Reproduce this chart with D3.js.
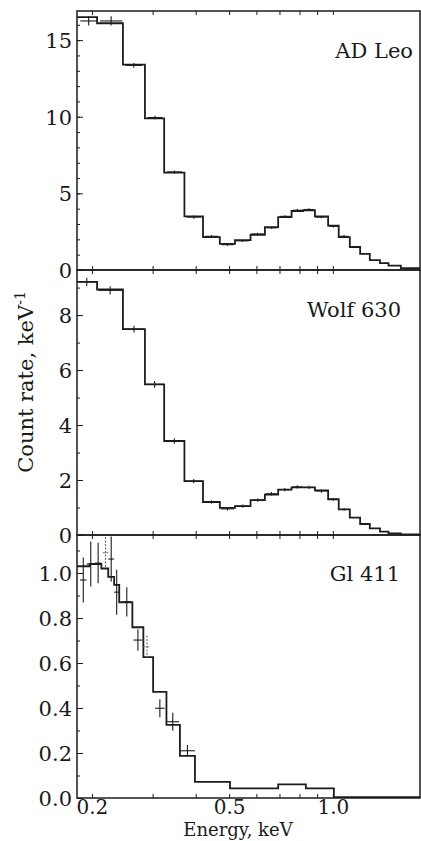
<!DOCTYPE html>
<html>
<head>
<meta charset="utf-8">
<script src="https://cdn.jsdelivr.net/npm/d3@7"></script>
<style>
  html, body { margin: 0; padding: 0; background: #fff; }
  svg text { font-family: "DejaVu Serif", serif; fill: #1a1a1a; }
</style>
</head>
<body>
<svg id="chart" width="421" height="841"></svg>
<script>
// ---------------- DATA ----------------
// Shared channel energy edges (keV) for AD Leo and Wolf 630
const energyEdges = [0.181, 0.207, 0.246, 0.285, 0.324, 0.371, 0.420, 0.470, 0.520, 0.577, 0.635,
  0.694, 0.759, 0.820, 0.887, 0.969, 1.04, 1.12, 1.20, 1.28, 1.37, 1.45, 1.575, 1.79];
const adLeoModel = [16.5, 16.1, 13.4, 9.9, 6.35, 3.5, 2.15, 1.7, 1.95, 2.3, 2.8, 3.45, 3.85, 3.9,
  3.5, 2.9, 2.15, 1.5, 1.05, 0.65, 0.45, 0.28, 0.12];
const wolfModel = [9.21, 8.93, 7.49, 5.48, 3.42, 1.96, 1.2, 0.99, 1.05, 1.27, 1.47, 1.65, 1.73, 1.73,
  1.62, 1.3, 0.93, 0.63, 0.4, 0.24, 0.12, 0.06, 0.02];
// Gl 411 uses wider channels
const gl411Edges = [0.181, 0.197, 0.213, 0.223, 0.232, 0.240, 0.262, 0.282, 0.301, 0.329, 0.360,
  0.398, 0.503, 0.694, 0.835, 1.007, 1.79];
const gl411Model = [1.03, 1.04, 1.02, 0.983, 0.947, 0.87, 0.759, 0.626, 0.472, 0.325, 0.187,
  0.072, 0.043, 0.061, 0.043, 0.004];

// Data points: [energy low, energy high, count rate, error]
const adLeoPoints = [[0.185, 0.207, 16.25, 0.3], [0.211, 0.245, 16.25, 0.3], [0.25, 0.28, 13.35, 0.15],
  [0.29, 0.32, 9.95, 0.12], [0.33, 0.365, 6.4, 0.1], [0.376, 0.415, 3.45, 0.1], [0.425, 0.465, 2.2, 0.08],
  [0.475, 0.515, 1.65, 0.08], [0.525, 0.57, 1.9, 0.08], [0.58, 0.63, 2.35, 0.08], [0.64, 0.69, 2.75, 0.08],
  [0.70, 0.755, 3.5, 0.08], [0.765, 0.815, 3.9, 0.08], [0.825, 0.88, 3.95, 0.08], [0.89, 0.96, 3.45, 0.08],
  [0.975, 1.035, 2.85, 0.08], [1.045, 1.11, 2.2, 0.08], [1.125, 1.19, 1.5, 0.06]];
const wolfPoints = [[0.183, 0.204, 9.21, 0.15], [0.209, 0.244, 8.9, 0.15], [0.248, 0.283, 7.49, 0.12],
  [0.287, 0.322, 5.48, 0.12], [0.326, 0.369, 3.42, 0.1], [0.373, 0.418, 1.96, 0.08], [0.423, 0.467, 1.2, 0.06],
  [0.473, 0.517, 0.95, 0.06], [0.523, 0.574, 1.05, 0.06], [0.58, 0.632, 1.27, 0.06], [0.638, 0.69, 1.5, 0.06],
  [0.697, 0.755, 1.65, 0.06], [0.762, 0.817, 1.75, 0.06], [0.823, 0.884, 1.73, 0.06], [0.89, 0.965, 1.6, 0.06],
  [0.972, 1.036, 1.3, 0.05], [1.043, 1.115, 0.93, 0.05]];
const gl411Points = [[0.1846, 0.193, 0.969, 0.10], [0.193, 0.204, 1.04, 0.10], [0.204, 0.213, 1.044, 0.09],
  [0.223, 0.232, 1.062, 0.10], [0.232, 0.240, 0.915, 0.10], [0.246, 0.259, 0.872, 0.065],
  [0.264, 0.280, 0.702, 0.048], [0.305, 0.325, 0.399, 0.04], [0.329, 0.358, 0.339, 0.04],
  [0.360, 0.398, 0.21, 0.026]];
const gl411PointsB = [[0.215, 0.223, 1.09, 0.07], [0.282, 0.296, 0.672, 0.05]];

const starNames = ["AD Leo", "Wolf 630", "Gl 411"];
const xTickValues = [0.2, 0.5, 1.0];
const xTickLabels = ["0.2", "0.5", "1.0"];
const xMinorTicks = [0.2, 0.3, 0.4, 0.5, 0.6, 0.7, 0.8, 0.9, 1.0];
const adLeoYTicks = [0, 5, 10, 15];
const wolfYTicks = [0, 2, 4, 6, 8];
const gl411YTicks = [0.0, 0.2, 0.4, 0.6, 0.8, 1.0];
const yAxisTitle = "Count rate, keV";
const xAxisTitle = "Energy, keV";

// ---------------- LAYOUT ----------------
const svg = d3.select("#chart");
const left = 77, right = 420;
const x = d3.scaleLog().domain([0.181, 1.79]).range([left, right]);

const panels = [
  { name: starNames[0], edges: energyEdges, model: adLeoModel, points: adLeoPoints, pointsB: [],
    yDomain: [0, 16.9], top: 11, bottom: 270, ticks: adLeoYTicks, minor: d3.range(0, 17, 1),
    fmt: d3.format("d"), labelX: 413, labelY: 58 },
  { name: starNames[1], edges: energyEdges, model: wolfModel, points: wolfPoints, pointsB: [],
    yDomain: [0, 9.64], top: 270, bottom: 535, ticks: wolfYTicks, minor: d3.range(0, 10, 1),
    fmt: d3.format("d"), labelX: 401, labelY: 317 },
  { name: starNames[2], edges: gl411Edges, model: gl411Model, points: gl411Points, pointsB: gl411PointsB,
    yDomain: [0, 1.169], top: 535, bottom: 798, ticks: gl411YTicks, minor: d3.range(0, 1.15, 0.1),
    fmt: d3.format(".1f"), labelX: 400, labelY: 581, xLabels: true }
];

const ink = "#1c1c1c";

panels.forEach(p => {
  const y = d3.scaleLinear().domain(p.yDomain).range([p.bottom, p.top]);
  const g = svg.append("g");

  // histogram
  const steps = p.model.map((v, i) => [p.edges[i], v]);
  steps.push([p.edges[p.edges.length - 1], p.model[p.model.length - 1]]);
  const line = d3.line().x(d => x(d[0])).y(d => y(d[1])).curve(d3.curveStepAfter);
  g.append("path").attr("d", line(steps)).attr("fill", "none")
    .attr("stroke", ink).attr("stroke-width", 1.8);

  // data crosses
  const drawPts = (pts, dash, col) => {
    const pg = g.append("g").attr("stroke", col).attr("stroke-width", 1.1)
      .attr("stroke-dasharray", dash);
    pts.forEach(d => {
      const xc = x(Math.sqrt(d[0] * d[1]));
      pg.append("line").attr("x1", x(d[0])).attr("x2", x(d[1]))
        .attr("y1", y(d[2])).attr("y2", y(d[2]));
      pg.append("line").attr("x1", xc).attr("x2", xc)
        .attr("y1", y(Math.min(d[2] + d[3], p.yDomain[1]))).attr("y2", y(d[2] - d[3]));
    });
  };
  drawPts(p.points, null, ink);
  drawPts(p.pointsB, "2,1.5", "#666");

  // frame
  g.append("rect").attr("x", left).attr("y", p.top)
    .attr("width", right - left).attr("height", p.bottom - p.top)
    .attr("fill", "none").attr("stroke", ink).attr("stroke-width", 1.5);

  // y axis: minor + major inward ticks
  const yMinor = d3.axisLeft(y).tickValues(p.minor).tickSize(-3).tickFormat("");
  g.append("g").attr("transform", `translate(${left},0)`).call(yMinor)
    .call(s => s.select(".domain").remove())
    .call(s => s.selectAll("line").attr("stroke", ink));
  const yMajor = d3.axisLeft(y).tickValues(p.ticks).tickSize(-6).tickPadding(5).tickFormat(p.fmt);
  g.append("g").attr("transform", `translate(${left},0)`).call(yMajor)
    .call(s => s.select(".domain").remove())
    .call(s => s.selectAll("line").attr("stroke", ink))
    .call(s => s.selectAll("text").attr("font-family", "DejaVu Serif").attr("font-size", 21)
      .attr("dy", "0.36em").attr("fill", ink));

  // x ticks at top and bottom (inward)
  const xb = d3.axisBottom(x).tickValues(xMinorTicks).tickSize(-4).tickFormat("");
  g.append("g").attr("transform", `translate(0,${p.bottom})`).call(xb)
    .call(s => s.select(".domain").remove())
    .call(s => s.selectAll("line").attr("stroke", ink));
  const xt = d3.axisTop(x).tickValues(xMinorTicks).tickSize(-4).tickFormat("");
  g.append("g").attr("transform", `translate(0,${p.top})`).call(xt)
    .call(s => s.select(".domain").remove())
    .call(s => s.selectAll("line").attr("stroke", ink));

  if (p.xLabels) {
    const xl = d3.axisBottom(x).tickValues(xTickValues).tickSize(0).tickPadding(2)
      .tickFormat((d, i) => xTickLabels[i]);
    g.append("g").attr("transform", `translate(0,${p.bottom})`).call(xl)
      .call(s => s.select(".domain").remove())
      .call(s => s.selectAll("text").attr("font-family", "DejaVu Serif").attr("font-size", 20)
        .attr("fill", ink));
  }

  // star label
  g.append("text").attr("x", p.labelX).attr("y", p.labelY).attr("text-anchor", "end")
    .attr("font-size", 21).text(p.name);
});

// axis titles
const yt = svg.append("text").attr("transform", "translate(33,382) rotate(-90)")
  .attr("text-anchor", "middle").attr("font-size", 21);
yt.append("tspan").text(yAxisTitle);
yt.append("tspan").attr("font-size", 14).attr("dy", "-8").text("-1");

svg.append("text").attr("x", 238).attr("y", 836).attr("text-anchor", "middle")
  .attr("font-size", 18).text(xAxisTitle);
</script>
</body>
</html>
